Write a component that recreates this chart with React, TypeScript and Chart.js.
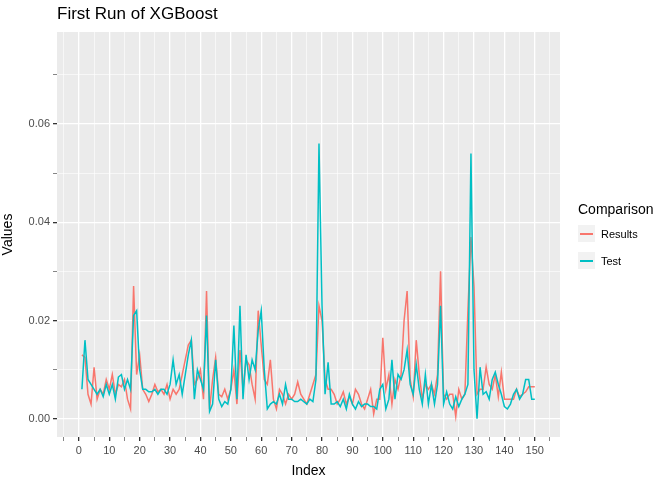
import React, { useEffect, useRef } from "react";
import { Chart, registerables } from "chart.js";

Chart.register(...registerables);

// values in thousandths
const results = [
  13, 12.5, 5, 3, 10.5, 4, 6, 5, 8, 6, 9, 5, 7, 6.5, 8, 4, 2, 27, 9, 13,
  6, 5, 3.5, 5, 7, 5.5, 6, 5, 7, 4, 6, 5, 6, 9, 12, 15, 16, 7, 8, 10,
  4, 26, 2, 8, 12.5, 5, 4.5, 6, 4, 6, 10, 3, 14, 6, 12, 11, 7, 4, 22, 15,
  8, 7, 12, 4, 2, 6, 5, 3, 5, 4, 5, 7.5, 5, 4, 3, 5, 7, 9, 23, 20,
  8, 6, 6, 5, 3, 4, 5.5, 3, 4.5, 3, 6, 5, 3, 2, 4, 6, 1, 4, 4, 16.5,
  6, 9, 3, 8, 6, 9, 20, 26, 8, 4.5, 16, 9, 4, 7, 6, 7, 5, 9, 30, 5,
  4, 5, 5, 0.5, 6, 4, 5, 22, 37, 27, 5, 6, 6, 10.5, 7, 6, 9, 4.5, 9.5, 4,
  4, 4, 4, 6, 4.5, 5, 5.5, 6.5, 6.5, 6.5,
];
const test = [
  6, 16, 8, 7, 6, 5, 6, 4.5, 7, 5, 7, 4, 8.5, 9, 6, 8, 6, 21, 22, 10,
  6, 6, 5.5, 5.5, 6, 5, 6, 6, 5, 7, 12, 7, 9, 5, 9, 13, 16, 4, 10, 8,
  6, 21, 1.5, 3, 12, 4, 2.5, 3.5, 3, 6, 19, 4, 23, 4, 13, 8, 12, 10, 18, 22,
  10, 2, 3, 3.5, 3, 5, 3, 7, 4, 4, 3.5, 3.5, 4, 3.5, 3, 4, 3.5, 8, 56, 23,
  5, 11.5, 3, 3, 3.5, 2.5, 4, 2, 5, 3, 2, 3.5, 2.5, 3, 3, 2.5, 2.5, 2, 6, 7,
  2, 4, 12, 4, 9, 8, 10, 14, 7, 5, 11, 6, 3, 9, 3, 7, 3, 7, 23, 3,
  5.5, 3, 2, 4.5, 2.5, 4, 5, 7, 54, 10, 0, 10.5, 5, 5.5, 4, 8, 9.5, 7, 5, 2.5,
  2, 3, 5, 6, 4, 5, 8, 8, 4, 4,
];
const index = results.map((_, i) => i + 1);
const xTicks = [-5, 0, 5, 10, 15, 20, 25, 30, 35, 40, 45, 50, 55, 60, 65, 70, 75, 80, 85, 90, 95, 100, 105, 110, 115, 120, 125, 130, 135, 140, 145, 150, 155];
const yTicks = [0, 0.01, 0.02, 0.03, 0.04, 0.05, 0.06, 0.07];

const App: React.FC = () => {
  const ref = useRef<HTMLCanvasElement | null>(null);

  useEffect(() => {
    if (!ref.current) return;
    const panelBg = {
      id: "panelBg",
      beforeDraw: (chart: any) => {
        const a = chart.chartArea;
        chart.ctx.save();
        chart.ctx.fillStyle = "#EBEBEB";
        chart.ctx.fillRect(a.left, a.top, a.right - a.left, a.bottom - a.top);
        chart.ctx.restore();
      },
    };
    const chart = new Chart(ref.current, {
      type: "line",
      data: {
        datasets: [
          { label: "Test", data: index.map((x, i) => ({ x, y: test[i] / 1000 })), borderColor: "#00BFC4", borderWidth: 1.5, pointRadius: 0, tension: 0 },
          { label: "Results", data: index.map((x, i) => ({ x, y: results[i] / 1000 })), borderColor: "#F8766D", borderWidth: 1.5, pointRadius: 0, tension: 0 },
        ],
      },
      options: {
        animation: false,
        responsive: false,
        layout: { padding: { top: 32, right: 112, left: 0, bottom: 0 } },
        plugins: { legend: { display: false }, tooltip: { enabled: false } },
        scales: {
          x: {
            type: "linear",
            min: -7.2,
            max: 158.3,
            afterBuildTicks: (s: any) => { s.ticks = xTicks.map((v) => ({ value: v })); },
            afterFit: (s: any) => { s.height = 43; },
            border: { display: false },
            grid: {
              color: "#FFFFFF",
              lineWidth: (c: any) => (c.tick && c.tick.value % 10 === 0 ? 1.3 : 0.6),
              tickColor: "#333333",
              tickLength: 4,
            },
            ticks: {
              autoSkip: false,
              maxRotation: 0,
              color: "#4D4D4D",
              font: { family: "Liberation Sans", size: 11 },
              callback: (v: any) => (v % 10 === 0 && v >= 0 && v <= 150 ? String(v) : ""),
            },
            title: { display: true, text: "Index", color: "#000", font: { family: "Liberation Sans", size: 14 }, padding: { top: 0, bottom: 0 } },
          },
          y: {
            type: "linear",
            min: -0.0037,
            max: 0.0787,
            afterBuildTicks: (s: any) => { s.ticks = yTicks.map((v) => ({ value: v })); },
            afterFit: (s: any) => { s.width = 57; },
            border: { display: false },
            grid: {
              color: "#FFFFFF",
              lineWidth: (c: any) => (c.tick && Math.round(c.tick.value * 1000) % 20 === 0 ? 1.3 : 0.6),
              tickColor: "#333333",
              tickLength: 4,
            },
            ticks: {
              color: "#4D4D4D",
              font: { family: "Liberation Sans", size: 11 },
              callback: (v: any) => {
                const k = Math.round(v * 1000);
                return k % 20 === 0 && k <= 60 ? (v as number).toFixed(2) : "";
              },
            },
            title: { display: true, text: "Values", color: "#000", font: { family: "Liberation Sans", size: 14 }, padding: { top: 0, bottom: 2 } },
          },
        },
      },
      plugins: [panelBg],
    });
    return () => chart.destroy();
  }, []);

  const key = (color: string, label: string, top: number) => (
    <div style={{ position: "absolute", left: 578, top, display: "flex", alignItems: "center" }}>
      <div style={{ width: 17, height: 17, background: "#F2F2F2", position: "relative" }}>
        <div style={{ position: "absolute", left: 2, right: 2, top: 8, height: 1.5, background: color }} />
      </div>
      <span style={{ marginLeft: 6, fontSize: 11, color: "#000" }}>{label}</span>
    </div>
  );

  return (
    <div style={{ position: "fixed", left: 0, top: 0, width: 672, height: 480, background: "#fff", fontFamily: "Liberation Sans" }}>
      <canvas ref={ref} width={672} height={480} style={{ position: "absolute", left: 0, top: 0 }} />
      <div style={{ position: "absolute", left: 57, top: 4, fontSize: 17, color: "#000" }}>First Run of XGBoost</div>
      <div style={{ position: "absolute", left: 578, top: 201, fontSize: 14, color: "#000" }}>Comparison</div>
      {key("#F8766D", "Results", 225)}
      {key("#00BFC4", "Test", 276 - 24)}
    </div>
  );
};

export default App;
